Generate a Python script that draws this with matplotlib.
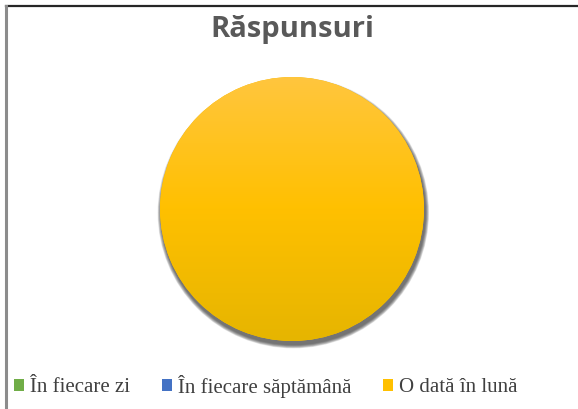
import matplotlib
matplotlib.use("Agg")
import matplotlib.pyplot as plt
import numpy as np
from matplotlib.patches import Patch, Circle
from matplotlib.lines import Line2D
from matplotlib.colors import LinearSegmentedColormap

categories = ["În fiecare zi", "În fiecare săptămână", "O dată în lună"]
values = [0, 0, 100]
colors = ["#70AD47", "#4472C4", "#FFC000"]
title = "Răspunsuri"

W, H = 578, 409
fig = plt.figure(figsize=(W / 100, H / 100), dpi=100)
fig.patch.set_facecolor("white")

# border lines
fig.add_artist(Line2D([5.5 / W, 1], [1 - 6 / H, 1 - 6 / H], color="#262626", lw=1.6))
fig.add_artist(Line2D([5.5 / W, 5.5 / W], [0, 1 - 6 / H], color="#8C8C8C", lw=2.2))

cx, cy, r = 292, 209, 132
lim = 1.08
half = r * lim
ax = fig.add_axes([(cx - half) / W, (H - cy - half) / H, 2 * half / W, 2 * half / H])
ax.axis("off")

# soft shadow (bottom-right)
n = 10
for i in range(n):
    ax.add_patch(Circle((0.01, -0.028), 1.0 + 0.0028 * (n - i), color="#303030",
                        alpha=0.1, lw=0, zorder=0))

wedges, _ = ax.pie(values, colors=colors, startangle=90, counterclock=False,
                   radius=1.0, wedgeprops=dict(linewidth=0, edgecolor="none"))
for w in wedges:
    w.set_zorder(1)

# vertical gradient on the filled wedge(s)
cmap = LinearSegmentedColormap.from_list("g", ["#E6B500", "#FFC000", "#FFC63E"])
grad = np.linspace(0, 1, 256).reshape(-1, 1)
for w, v in zip(wedges, values):
    if v > 0:
        im = ax.imshow(grad, cmap=cmap, extent=(-1, 1, -1, 1), origin="lower",
                       aspect="auto", zorder=2)
        im.set_clip_path(w)

ax.set_xlim(-lim, lim)
ax.set_ylim(-lim, lim)
ax.set_aspect("equal")

fig.text(cx / W, 1 - 30 / H, title, ha="center", va="center", fontsize=21,
         fontweight="bold", family="Open Sans", color="#595959")

handles = [Patch(facecolor=c, edgecolor="none") for c in colors]
leg = fig.legend(handles, categories, loc="center left", ncol=3,
                 bbox_to_anchor=(14 / W, 1 - 386 / H), frameon=False,
                 prop={"family": "Liberation Serif", "size": 15},
                 handlelength=0.48, handleheight=0.48, handletextpad=0.3,
                 columnspacing=1.5, borderaxespad=0, borderpad=0)
for t in leg.get_texts():
    t.set_color("#404040")

fig.savefig("out.png", dpi=100, facecolor="white")
